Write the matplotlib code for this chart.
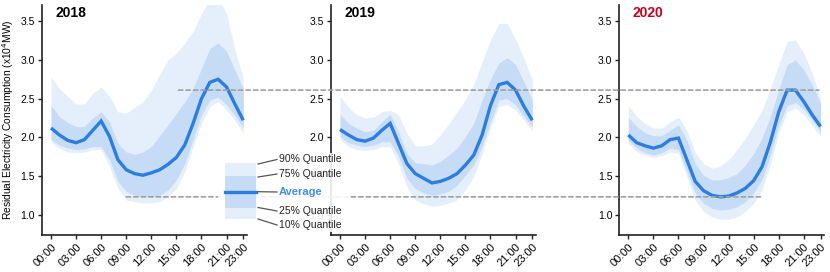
import matplotlib
matplotlib.use("Agg")
import matplotlib.pyplot as plt
from matplotlib.patches import ConnectionPatch, Rectangle
from matplotlib.lines import Line2D
import numpy as np

plt.rcParams['font.family'] = ['Liberation Sans', 'DejaVu Sans']

hours = list(range(24))
xtick_pos = [0, 3, 6, 9, 12, 15, 18, 21, 23]
xtick_labels = ["00:00", "03:00", "06:00", "09:00", "12:00", "15:00", "18:00", "21:00", "23:00"]
ytick_vals = [1.0, 1.5, 2.0, 2.5, 3.0, 3.5]
years = ["2018", "2019", "2020"]

avg_2018 = [2.12, 2.03, 1.96, 1.93, 1.97, 2.09, 2.21, 2.01, 1.71, 1.58, 1.53, 1.51, 1.54, 1.58, 1.65, 1.74,
            1.90, 2.18, 2.50, 2.71, 2.75, 2.65, 2.43, 2.22]
q90_2018 = [2.78, 2.63, 2.53, 2.43, 2.43, 2.57, 2.65, 2.53, 2.33, 2.31, 2.39, 2.46, 2.61, 2.81, 3.00, 3.09,
            3.22, 3.37, 3.60, 3.80, 3.80, 3.60, 3.13, 2.76]
q75_2018 = [2.41, 2.27, 2.19, 2.14, 2.14, 2.25, 2.33, 2.20, 1.92, 1.81, 1.78, 1.81, 1.88, 2.02, 2.16, 2.31,
            2.46, 2.63, 2.89, 3.15, 3.22, 3.11, 2.87, 2.63]
q25_2018 = [1.97, 1.90, 1.86, 1.84, 1.85, 1.88, 1.88, 1.71, 1.43, 1.30, 1.25, 1.23, 1.23, 1.25, 1.32, 1.45,
            1.66, 1.97, 2.29, 2.48, 2.52, 2.42, 2.28, 2.13]
q10_2018 = [1.94, 1.86, 1.81, 1.80, 1.81, 1.84, 1.84, 1.62, 1.34, 1.19, 1.17, 1.15, 1.15, 1.17, 1.23, 1.34,
            1.56, 1.88, 2.18, 2.40, 2.46, 2.35, 2.22, 2.05]

avg_2019 = [2.10, 2.03, 1.97, 1.95, 1.99, 2.09, 2.18, 1.92, 1.66, 1.53, 1.47, 1.41, 1.43, 1.47, 1.53, 1.64,
            1.77, 2.03, 2.41, 2.68, 2.71, 2.61, 2.40, 2.22]
q90_2019 = [2.53, 2.39, 2.29, 2.25, 2.26, 2.33, 2.35, 2.29, 2.05, 1.89, 1.89, 1.91, 2.03, 2.17, 2.33, 2.49,
            2.68, 2.98, 3.26, 3.47, 3.47, 3.27, 3.02, 2.74]
q75_2019 = [2.30, 2.18, 2.12, 2.07, 2.09, 2.20, 2.30, 2.07, 1.79, 1.67, 1.66, 1.64, 1.69, 1.77, 1.86, 2.01,
            2.18, 2.48, 2.75, 2.96, 3.03, 2.94, 2.72, 2.48]
q25_2019 = [2.01, 1.93, 1.90, 1.88, 1.90, 1.94, 1.94, 1.75, 1.47, 1.34, 1.28, 1.25, 1.27, 1.30, 1.38, 1.51,
            1.64, 1.88, 2.20, 2.48, 2.50, 2.42, 2.27, 2.14]
q10_2019 = [1.97, 1.88, 1.84, 1.83, 1.84, 1.88, 1.88, 1.66, 1.36, 1.19, 1.14, 1.11, 1.12, 1.15, 1.19, 1.32,
            1.49, 1.79, 2.12, 2.40, 2.42, 2.35, 2.22, 2.09]

avg_2020 = [2.03, 1.93, 1.89, 1.86, 1.89, 1.97, 1.99, 1.71, 1.43, 1.31, 1.25, 1.23, 1.24, 1.28, 1.34, 1.44,
            1.62, 1.94, 2.33, 2.61, 2.61, 2.46, 2.29, 2.14]
q90_2020 = [2.41, 2.27, 2.18, 2.12, 2.12, 2.20, 2.26, 2.09, 1.81, 1.66, 1.60, 1.63, 1.71, 1.84, 1.99, 2.16,
            2.35, 2.63, 2.94, 3.24, 3.26, 3.09, 2.83, 2.50]
q75_2020 = [2.26, 2.14, 2.06, 2.02, 2.02, 2.09, 2.16, 1.97, 1.66, 1.51, 1.45, 1.45, 1.48, 1.53, 1.64, 1.79,
            1.99, 2.27, 2.62, 2.94, 3.00, 2.87, 2.68, 2.44]
q25_2020 = [1.96, 1.86, 1.80, 1.77, 1.80, 1.86, 1.84, 1.56, 1.28, 1.15, 1.08, 1.06, 1.07, 1.10, 1.17, 1.28,
            1.45, 1.77, 2.15, 2.41, 2.45, 2.36, 2.22, 2.07]
q10_2020 = [1.92, 1.81, 1.77, 1.74, 1.76, 1.81, 1.79, 1.49, 1.19, 1.04, 0.97, 0.94, 0.94, 0.97, 1.04, 1.15,
            1.32, 1.66, 2.05, 2.33, 2.38, 2.29, 2.15, 2.01]

series = {
    "2018": (avg_2018, q10_2018, q25_2018, q75_2018, q90_2018),
    "2019": (avg_2019, q10_2019, q25_2019, q75_2019, q90_2019),
    "2020": (avg_2020, q10_2020, q25_2020, q75_2020, q90_2020),
}

C_LIGHT = "#e5effc"
C_MED = "#c6dcf6"
C_LINE = "#2b7de0"
C_TEXT_AVG = "#3a8ff0"
C_RED = "#c8001e"
C_DASH = "#a0a0a0"
C_SPINE = "#222222"

W, H = 830, 272
fig = plt.figure(figsize=(W / 100, H / 100), dpi=100)

lefts = [42 / W, 331 / W, 619.3 / W]
bottom = (H - 235) / H
height = 230 / H
width = 204.6 / W

axes = []
for i, yr in enumerate(years):
    ax = fig.add_axes([lefts[i], bottom, width, height])
    avg, q10, q25, q75, q90 = series[yr]
    ax.fill_between(hours, q10, q90, color=C_LIGHT, lw=0)
    ax.fill_between(hours, q25, q75, color=C_MED, lw=0)
    ax.plot(hours, avg, color=C_LINE, lw=2.4, solid_capstyle='butt', solid_joinstyle='miter')
    ax.set_xlim(-1.08, 23.4)
    ax.set_ylim(0.737, 3.71)
    ax.set_xticks(xtick_pos)
    ax.set_xticklabels(xtick_labels, rotation=45, ha='right', rotation_mode='anchor', fontsize=8)
    ax.set_yticks(ytick_vals)
    ax.set_yticklabels([f"{v:.1f}" for v in ytick_vals], fontsize=7.5)
    ax.tick_params(axis='both', direction='out', length=3, width=1, color=C_SPINE, pad=2)
    for s in ['top', 'right']:
        ax.spines[s].set_visible(False)
    for s in ['left', 'bottom']:
        ax.spines[s].set_linewidth(1.2)
        ax.spines[s].set_color(C_SPINE)
    ax.patch.set_alpha(0)
    ax.text(0.065, 0.967, yr, transform=ax.transAxes, fontsize=10, fontweight='bold',
            color=(C_RED if yr == "2020" else "black"), va='center', ha='left')
    axes.append(ax)

axes[0].set_ylabel("Residual Electricity Consumption (x10$^4$MW)", fontsize=7.4)
axes[0].yaxis.set_label_coords(-0.128, 0.5)

# reference lines at 2020 peak and trough
peak = max(avg_2020)
trough = min(avg_2020)
for y, xa, xb in [(peak, 15.25, 22.8), (trough, 9.0, 16.0)]:
    cp = ConnectionPatch(xyA=(xa, y), coordsA=axes[0].transData,
                         xyB=(xb, y), coordsB=axes[2].transData,
                         linestyle=(0, (2.6, 1.9)), color=C_DASH, lw=1.2, zorder=2)
    fig.add_artist(cp)

# legend overlay (pixel coordinates)
ov = fig.add_axes([0, 0, 1, 1], zorder=5)
ov.set_xlim(0, W)
ov.set_ylim(H, 0)
ov.axis('off')
ov.add_patch(Rectangle((218, 153), 132, 79, facecolor='white', edgecolor='none', alpha=0.88))
ov.add_patch(Rectangle((225, 163.3), 31, 56, facecolor=C_LIGHT, edgecolor='none'))
ov.add_patch(Rectangle((225, 176), 31, 31.7, facecolor=C_MED, edgecolor='none'))
ov.add_line(Line2D([225, 256], [191.7, 191.7], color=C_LINE, lw=2.4))
leg_items = [("90% Quantile", 164, 159.5), ("75% Quantile", 177, 174),
             ("Average", 191.7, 192), ("25% Quantile", 207.5, 211), ("10% Quantile", 219, 225)]
for label, y0, y1 in leg_items:
    ov.add_line(Line2D([258, 277], [y0, y1], color="#555555", lw=0.9))
    if label == "Average":
        ov.text(279, y1, label, fontsize=8, fontweight='bold', color=C_TEXT_AVG, va='center', ha='left')
    else:
        ov.text(279, y1, label, fontsize=7.5, color="#222222", va='center', ha='left')

fig.savefig("out.png", dpi=100)
